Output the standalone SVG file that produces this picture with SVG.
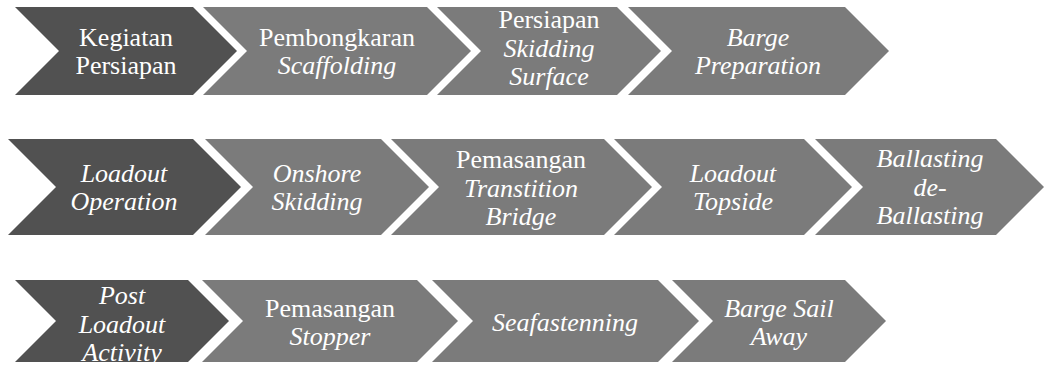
<svg xmlns="http://www.w3.org/2000/svg" width="1044" height="365" viewBox="0 0 1044 365">
  <style>
    .start { fill: #515151; }
    .step { fill: #7b7b7b; }
    text { font-family: "Liberation Serif", "Times New Roman", serif; font-size: 26px; fill: #ffffff; text-anchor: middle; }
    .it { font-style: italic; }
  </style>
  <rect width="1044" height="365" fill="#ffffff"/>

  <!-- Row 1 -->
  <g id="kegiatan-persiapan">
    <polygon class="start" points="15,7 193,7 237,51 193,95 15,95 59,51"/>
    <text x="126" y="46">Kegiatan</text>
    <text x="126" y="74">Persiapan</text>
  </g>
  <g id="pembongkaran-scaffolding">
    <polygon class="step" points="203,7 427,7 471,51 427,95 203,95 247,51"/>
    <text x="337" y="46">Pembongkaran</text>
    <text x="337" y="74" class="it">Scaffolding</text>
  </g>
  <g id="persiapan-skidding-surface">
    <polygon class="step" points="437,7 617,7 661,51 617,95 437,95 481,51"/>
    <text x="549" y="28">Persiapan</text>
    <text x="549" y="57" class="it">Skidding</text>
    <text x="549" y="85" class="it">Surface</text>
  </g>
  <g id="barge-preparation">
    <polygon class="step" points="628,7 845,7 889,51 845,95 628,95 672,51"/>
    <text x="758" y="46" class="it">Barge</text>
    <text x="758" y="74" class="it">Preparation</text>
  </g>

  <!-- Row 2 -->
  <g id="loadout-operation">
    <polygon class="start" points="8,139 193,139 241,187 193,235 8,235 56,187"/>
    <text x="124" y="182" class="it">Loadout</text>
    <text x="124" y="210" class="it">Operation</text>
  </g>
  <g id="onshore-skidding">
    <polygon class="step" points="205,139 381,139 429,187 381,235 205,235 253,187"/>
    <text x="317" y="182" class="it">Onshore</text>
    <text x="317" y="210" class="it">Skidding</text>
  </g>
  <g id="pemasangan-transtition-bridge">
    <polygon class="step" points="391,139 604,139 652,187 604,235 391,235 439,187"/>
    <text x="521" y="168">Pemasangan</text>
    <text x="521" y="197" class="it">Transtition</text>
    <text x="521" y="225" class="it">Bridge</text>
  </g>
  <g id="loadout-topside">
    <polygon class="step" points="614,139 804,139 852,187 804,235 614,235 662,187"/>
    <text x="733" y="182" class="it">Loadout</text>
    <text x="733" y="210" class="it">Topside</text>
  </g>
  <g id="ballasting-de-ballasting">
    <polygon class="step" points="815,139 996,139 1044,187 996,235 815,235 863,187"/>
    <text x="930" y="167" class="it">Ballasting</text>
    <text x="930" y="196" class="it">de-</text>
    <text x="930" y="224" class="it">Ballasting</text>
  </g>

  <!-- Row 3 -->
  <g id="post-loadout-activity">
    <polygon class="start" points="15,280 188,280 229,321 188,362 15,362 56,321"/>
    <text x="122" y="304" class="it">Post</text>
    <text x="122" y="333" class="it">Loadout</text>
    <text x="122" y="361" class="it">Activity</text>
  </g>
  <g id="pemasangan-stopper">
    <polygon class="step" points="202,280 417,280 458,321 417,362 202,362 243,321"/>
    <text x="330" y="317">Pemasangan</text>
    <text x="330" y="345" class="it">Stopper</text>
  </g>
  <g id="seafastenning">
    <polygon class="step" points="432,280 658,280 699,321 658,362 432,362 473,321"/>
    <text x="565" y="331" class="it">Seafastenning</text>
  </g>
  <g id="barge-sail-away">
    <polygon class="step" points="672,280 845,280 886,321 845,362 672,362 713,321"/>
    <text x="779" y="317" class="it">Barge Sail</text>
    <text x="779" y="345" class="it">Away</text>
  </g>

  <!-- The chevrons abut directly; no separate connectors are drawn -->
  <g id="connectors"/>
</svg>
